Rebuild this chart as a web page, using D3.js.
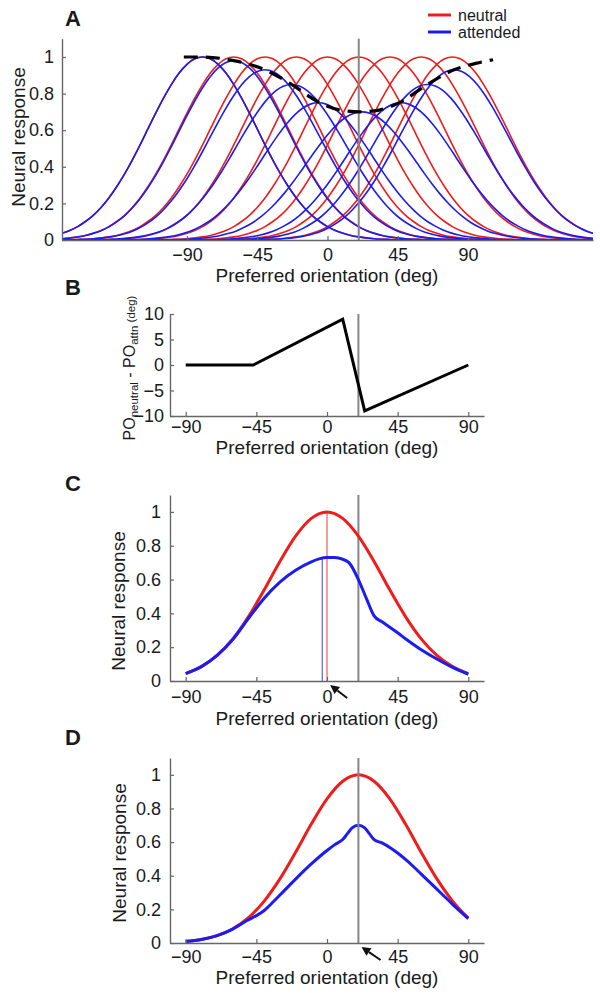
<!DOCTYPE html>
<html><head><meta charset="utf-8">
<script src="https://cdn.jsdelivr.net/npm/d3@7"></script>
<style>
body{margin:0;background:#fff}
svg{display:block}
text{font-family:"Liberation Sans",Arial,Helvetica,sans-serif;fill:#1a1a1a}
</style>
</head><body>
<svg id="fig" width="600" height="999"></svg>
<script>
// ---------------- DATA ----------------
const xTicks = [-90, -45, 0, 45, 90];
const respTicks = [0, 0.2, 0.4, 0.6, 0.8, 1];
const diffTicks = [-10, -5, 0, 5, 10];
const attendedOri = 20;

// tuning profile (offset from preferred orientation, deg)
const profileOffset = [0,5,10,15,20,25,30,35,40,45,50,55,60,65,70,75,80,85,90,95,100,110,120,130,140,160,180];
const profileValue  = [1,0.990,0.960,0.912,0.849,0.775,0.693,0.607,0.520,0.437,0.360,0.291,0.230,0.178,0.135,0.101,0.073,0.052,0.037,0.025,0.017,0.007,0.003,0.001,0.0003,0,0];

// Panel A neurons
const neutralPO  = [-80,-60,-40,-20,0,20,40,60,80];
const neutralAmp = [1,1,1,1,1,1,1,1,1];
const attendPO   = [-80,-60,-40,-23,-6,22,47,64,81];
const attendAmp  = [1.0,0.98,0.93,0.85,0.75,0.70,0.75,0.85,0.93];
// dashed gain envelope
const gainX = [-92,-80,-60,-40,-23,-6,8,21,33,47,64,81,95,106];
const gainY = [1.0,1.0,0.98,0.93,0.85,0.755,0.71,0.70,0.71,0.755,0.85,0.93,0.965,0.985];

// Panel B
const shiftX = [-90,-47,10,24,90];
const shiftY = [0,0,9,-9,0];

// Panel C
const popOri = [-90,-80,-70,-60,-50,-40,-30,-20,-10,0,10,20,30,40,50,60,70,80,90];
const cNeutral = [0.044,0.085,0.151,0.249,0.381,0.539,0.707,0.857,0.962,1,0.962,0.857,0.707,0.539,0.381,0.249,0.151,0.085,0.044];
const cAttX = [-90,-80,-70,-60,-50,-40,-30,-20,-10,-5,0,5,10,14,20,25,30,35,40,45,50,60,70,80,90];
const cAttY = [0.044,0.085,0.151,0.245,0.37,0.49,0.585,0.655,0.705,0.722,0.73,0.73,0.72,0.70,0.60,0.49,0.385,0.35,0.318,0.285,0.25,0.185,0.13,0.08,0.04];
const cDecodedNeutral = 0, cDecodedAttend = -3;
const cArrowAt = 2;

// Panel D
const dNeutral = [0.0094,0.021,0.044,0.085,0.151,0.249,0.381,0.539,0.707,0.857,0.962,1,0.962,0.857,0.707,0.539,0.381,0.249,0.148];
const dAttX = [-90,-80,-70,-60,-50,-45,-40,-35,-30,-20,-10,0,5,10,13,16,20,24,27,30,35,40,45,50,55,60,65,70,75,80,85,90];
const dAttY = [0.0094,0.021,0.044,0.083,0.138,0.163,0.193,0.238,0.285,0.38,0.47,0.55,0.585,0.615,0.65,0.685,0.70,0.685,0.65,0.615,0.595,0.568,0.535,0.497,0.455,0.41,0.365,0.32,0.275,0.23,0.187,0.145];
const dArrowAt = 22;

// ---------------- DRAW ----------------
const RED = "#f01c1c", BLUE = "#1c1cf0", GREY = "#858585", AX = "#666";
const svg = d3.select("#fig");

function axes(g, x, y, xt, yt, xPad, yPad, fmtY) {
  const ax = g.append("g").attr("transform", `translate(0,${y.range()[0]})`)
    .call(d3.axisBottom(x).tickValues(xt).tickFormat(d3.format("d")).tickSizeInner(-4).tickSizeOuter(0).tickPadding(xPad));
  const ay = g.append("g").attr("transform", `translate(${x.range()[0]},0)`)
    .call(d3.axisLeft(y).tickValues(yt).tickFormat(fmtY).tickSizeInner(-4).tickSizeOuter(0).tickPadding(yPad));
  [ax, ay].forEach(a => {
    a.select(".domain").attr("stroke", AX).attr("stroke-width", 1.4);
    a.selectAll(".tick line").attr("stroke", AX).attr("stroke-width", 1.2);
    a.selectAll("text").attr("font-size", 18).attr("fill", "#1a1a1a")
      .attr("font-family", '"Liberation Sans",Arial,sans-serif');
  });
}
function label(txt, x, y) {
  svg.append("text").attr("x", x).attr("y", y).attr("font-size", 22).attr("font-weight", "bold").text(txt);
}
function xlabel(x, y) {
  svg.append("text").attr("x", x).attr("y", y).attr("text-anchor", "middle").attr("font-size", 19)
    .text("Preferred orientation (deg)");
}
function ylabel(x, y) {
  svg.append("text").attr("transform", `translate(${x},${y}) rotate(-90)`).attr("text-anchor", "middle")
    .attr("font-size", 19).text("Neural response");
}
function vline(g, x, y, xv, col, w, yTop) {
  g.append("line").attr("x1", x(xv)).attr("x2", x(xv))
    .attr("y1", y.range()[0]).attr("y2", yTop === undefined ? y.range()[1] : y(yTop))
    .attr("stroke", col).attr("stroke-width", w);
}
function arrow(g, tx, ty, dx, dy) {
  const L = Math.hypot(dx, dy), ux = dx / L, uy = dy / L;
  const hl = 9, hw = 4.5;
  const bx = tx + ux * hl, by = ty + uy * hl;
  g.append("line").attr("x1", bx).attr("y1", by).attr("x2", tx + dx).attr("y2", ty + dy)
    .attr("stroke", "#111").attr("stroke-width", 2);
  g.append("path").attr("d", `M${tx},${ty}L${bx - uy * hw},${by + ux * hw}L${bx + uy * hw},${by - ux * hw}Z`)
    .attr("fill", "#111");
}
const fmtResp = d => d3.format("~g")(d);

// ===== Panel A =====
{
  const x = d3.scaleLinear().domain([-170, 170]).range([62, 593]);
  const y = d3.scaleLinear().domain([0, 1.1]).range([240, 38.7]);
  const g = svg.append("g");
  svg.append("defs").append("clipPath").attr("id", "clipA")
    .append("rect").attr("x", 62).attr("y", 0).attr("width", 531).attr("height", 241);
  const offs = profileOffset.slice(1).map(d => -d).reverse().concat(profileOffset);
  const vals = profileValue.slice(1).reverse().concat(profileValue);
  const line = d3.line().x(d => x(d[0])).y(d => y(d[1])).curve(d3.curveMonotoneX);
  const curves = g.append("g").attr("clip-path", "url(#clipA)");
  neutralPO.forEach((po, i) => {
    curves.append("path").attr("d", line(offs.map((o, k) => [po + o, neutralAmp[i] * vals[k]])))
      .attr("fill", "none").attr("stroke", RED).attr("stroke-width", 1.6);
  });
  attendPO.forEach((po, i) => {
    curves.append("path").attr("d", line(offs.map((o, k) => [po + o, attendAmp[i] * vals[k]])))
      .attr("fill", "none").attr("stroke", BLUE).attr("stroke-width", 1.6);
  });
  vline(g, x, y, attendedOri, GREY, 2);
  g.append("path").attr("d", d3.line().x((d, i) => x(gainX[i])).y(d => y(d)).curve(d3.curveMonotoneX)(gainY))
    .attr("fill", "none").attr("stroke", "#000").attr("stroke-width", 3.2).attr("stroke-dasharray", "14,8");
  axes(g, x, y, xTicks, respTicks, 8, 8, fmtResp);
  label("A", 65, 26);
  xlabel(327, 282);
  ylabel(25, 137);
  // legend
  const lg = svg.append("g");
  [["neutral", RED, 15], ["attended", BLUE, 32]].forEach(([t, c, yy]) => {
    lg.append("line").attr("x1", 428).attr("x2", 451).attr("y1", yy).attr("y2", yy).attr("stroke", c).attr("stroke-width", 3);
    lg.append("text").attr("x", 458).attr("y", yy + 5.5).attr("font-size", 16).text(t);
  });
}

// ===== Panel B =====
{
  const x = d3.scaleLinear().domain([-100, 100]).range([170, 484]);
  const y = d3.scaleLinear().domain([-10, 10]).range([416, 314]);
  const g = svg.append("g");
  vline(g, x, y, attendedOri, GREY, 2);
  g.append("path").attr("d", d3.line().x((d, i) => x(shiftX[i])).y(d => y(d))(shiftY))
    .attr("fill", "none").attr("stroke", "#000").attr("stroke-width", 3);
  axes(g, x, y, xTicks, diffTicks, 4, 6, d3.format("d"));
  label("B", 65, 295);
  xlabel(327, 454);
  const t = svg.append("text").attr("transform", "translate(135,368) rotate(-90)").attr("text-anchor", "middle");
  t.append("tspan").attr("font-size", 16).text("PO");
  t.append("tspan").attr("font-size", 11.5).attr("dy", 3).text("neutral");
  t.append("tspan").attr("font-size", 16).attr("dy", -3).text(" - PO");
  t.append("tspan").attr("font-size", 11.5).attr("dy", 3).text("attn");
  t.append("tspan").attr("font-size", 11.5).attr("dy", -3).text(" (deg)");
}

// ===== Panel C =====
{
  const x = d3.scaleLinear().domain([-100, 100]).range([170, 484]);
  const y = d3.scaleLinear().domain([0, 1.1]).range([681, 495]);
  const g = svg.append("g");
  vline(g, x, y, attendedOri, GREY, 2);
  vline(g, x, y, cDecodedAttend, "#6a6af5", 1.3, d3.max(cAttY));
  vline(g, x, y, cDecodedNeutral, "#f26a6a", 1.3, d3.max(cNeutral));
  const ln = d3.line().x(d => x(d[0])).y(d => y(d[1])).curve(d3.curveMonotoneX);
  g.append("path").attr("d", ln(popOri.map((o, i) => [o, cNeutral[i]])))
    .attr("fill", "none").attr("stroke", RED).attr("stroke-width", 3);
  g.append("path").attr("d", ln(cAttX.map((o, i) => [o, cAttY[i]])))
    .attr("fill", "none").attr("stroke", BLUE).attr("stroke-width", 3);
  axes(g, x, y, xTicks, respTicks, 9, 9, fmtResp);
  arrow(g, x(cArrowAt), y(0) + 4, 17, 13);
  label("C", 65, 491);
  xlabel(327, 725);
  ylabel(125, 601);
}

// ===== Panel D =====
{
  const x = d3.scaleLinear().domain([-100, 100]).range([170, 484]);
  const y = d3.scaleLinear().domain([0, 1.1]).range([943, 758]);
  const g = svg.append("g");
  const ln = d3.line().x(d => x(d[0])).y(d => y(d[1])).curve(d3.curveMonotoneX);
  g.append("path").attr("d", ln(popOri.map((o, i) => [o, dNeutral[i]])))
    .attr("fill", "none").attr("stroke", RED).attr("stroke-width", 3);
  g.append("path").attr("d", ln(dAttX.map((o, i) => [o, dAttY[i]])))
    .attr("fill", "none").attr("stroke", BLUE).attr("stroke-width", 3);
  vline(g, x, y, attendedOri, GREY, 2);
  axes(g, x, y, xTicks, respTicks, 7, 9, fmtResp);
  arrow(g, x(dArrowAt), y(0) + 4, 19, 13);
  label("D", 65, 745);
  xlabel(327, 984);
  ylabel(126, 853);
}
</script>
</body></html>
